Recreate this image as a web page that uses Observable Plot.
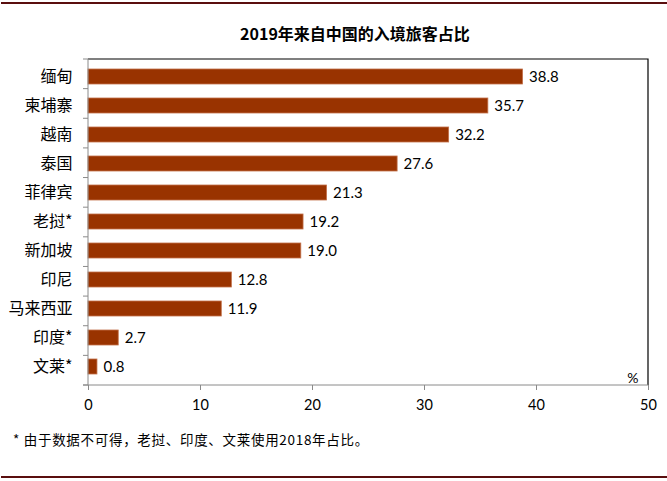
<!DOCTYPE html>
<html>
<head>
<meta charset="utf-8">
<script src="https://cdn.jsdelivr.net/npm/d3@7"></script>
<script src="https://cdn.jsdelivr.net/npm/@observablehq/plot@0.6"></script>
<style>
  html, body { margin: 0; padding: 0; background: #fff; }
  #wrap { position: relative; width: 667px; height: 481px; overflow: hidden; font-family: "Noto Sans CJK SC", sans-serif; }
  .rule { position: absolute; left: 1px; right: 0; height: 0; border-top: 2px solid #5a0e0e; }
  #title { position: absolute; top: 21px; left: 0; width: 710px; text-align: center; font-weight: bold; font-size: 16px; color: #000; }
  #note { position: absolute; top: 429px; left: 13px; font-size: 13.5px; letter-spacing: 0.7px; color: #000; }
  #chart { position: absolute; top: 0; left: 0; }
</style>
</head>
<body>
<div id="wrap">
  <div class="rule" style="top:2px"></div>
  <div id="chart"></div>
  <div id="title">2019年来自中国的入境旅客占比</div>
  <div id="note">* 由于数据不可得，老挝、印度、文莱使用2018年占比。</div>
  <div class="rule" style="top:476px"></div>
</div>
<script>
const countries = ["缅甸", "柬埔寨", "越南", "泰国", "菲律宾", "老挝*", "新加坡", "印尼", "马来西亚", "印度*", "文莱*"];
const shares = [38.8, 35.7, 32.2, 27.6, 21.3, 19.2, 19.0, 12.8, 11.9, 2.7, 0.8];
const xTicks = [0, 10, 20, 30, 40, 50];
const unitLabel = "%";

const data = countries.map((c, i) => ({country: c, share: shares[i]}));

const W = 667, H = 481, mL = 88, mR = 19, mT = 59, mB = 96;
const numFont = "Lato, 'Open Sans', sans-serif";

function frameLines(index, scales) {
  const g = d3.create("svg:g");
  const x0 = scales.x(0), x1 = scales.x(50);
  const yTop = mT, yBot = H - mB;
  g.append("path").attr("d", `M${x0},${yTop}H${x1}V${yBot}`)
    .attr("fill", "none").attr("stroke", "#000").attr("stroke-width", 1.2);
  const gray = "#8a8a8a";
  g.append("path").attr("d", `M${x0 - 5},${yBot}H${x1}`).attr("stroke", gray).attr("fill", "none");
  g.append("path").attr("d", `M${x0},${yTop}V${yBot}`).attr("stroke", gray).attr("fill", "none");
  const step = (yBot - yTop) / countries.length;
  for (let i = 0; i <= countries.length; i++) {
    const yy = yTop + i * step;
    g.append("path").attr("d", `M${x0 - 5},${yy}H${x0}`).attr("stroke", gray);
  }
  return g.node();
}

const chart = Plot.plot({
  width: W,
  height: H,
  marginLeft: mL,
  marginRight: mR,
  marginTop: mT,
  marginBottom: mB,
  style: {background: "transparent", overflow: "visible"},
  x: {domain: [0, 50], ticks: xTicks},
  y: {domain: countries, padding: 0.47, paddingOuter: 0.235, align: 0.5},
  marks: [
    Plot.barX(data, {x: "share", y: "country", fill: "#993300", stroke: "#c2714a", strokeWidth: 0.8}),
    Plot.text(data, {x: "share", y: "country", text: d => d.share.toFixed(1), textAnchor: "start", dx: 6, fontSize: 15, fontFamily: numFont, fill: "#000"}),
    Plot.text([unitLabel], {text: d => d, frameAnchor: "bottom-right", dx: -10, dy: -3, fontSize: 14, fontFamily: numFont, fill: "#000"}),
    Plot.axisY({tickSize: 0, tickPadding: 16, fontSize: 16, fill: "#000", fontFamily: "'Noto Sans CJK SC', sans-serif", label: null}),
    Plot.axisX({ticks: xTicks, tickSize: 5, tickPadding: 9, stroke: "#8a8a8a", fill: "#000", fontSize: 14.5, fontFamily: numFont, label: null}),
    frameLines
  ]
});
document.getElementById("chart").appendChild(chart);
</script>
</body>
</html>
